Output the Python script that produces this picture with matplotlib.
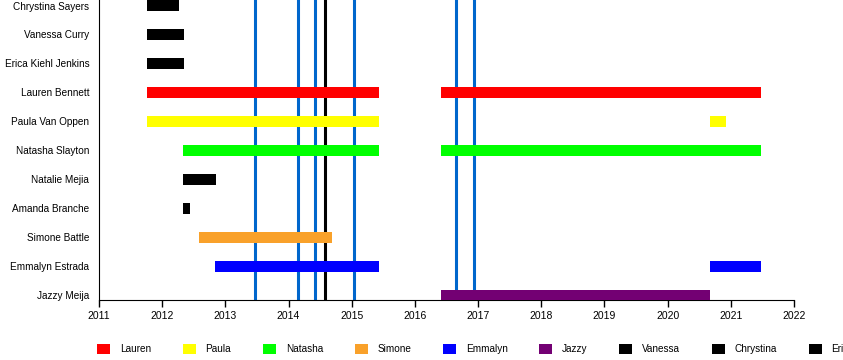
import matplotlib.pyplot as plt
from matplotlib.patches import Patch

# members, top to bottom
members = ["Chrystina Sayers", "Vanessa Curry", "Erica Kiehl Jenkins", "Lauren Bennett",
           "Paula Van Oppen", "Natasha Slayton", "Natalie Mejia", "Amanda Branche",
           "Simone Battle", "Emmalyn Estrada", "Jazzy Meija"]
member_colors = ["black", "black", "black", "#ff0000", "#ffff00", "#00ff00",
                 "black", "black", "#f9a12a", "#0000ff", "#730073"]
# (start, end) periods in decimal years
periods = [
    [(2011.76, 2012.27)],
    [(2011.76, 2012.34)],
    [(2011.76, 2012.34)],
    [(2011.76, 2015.43), (2016.41, 2021.47)],
    [(2011.76, 2015.43), (2020.67, 2020.92)],
    [(2012.33, 2015.43), (2016.41, 2021.47)],
    [(2012.33, 2012.85)],
    [(2012.33, 2012.44)],
    [(2012.58, 2014.69)],
    [(2012.83, 2015.43), (2020.67, 2021.47)],
    [(2016.41, 2020.67)],
]
# release markers
blue_events = [2013.47, 2014.15, 2014.42, 2015.03, 2016.65, 2016.94]
black_events = [2014.58]

legend_names = ["Lauren", "Paula", "Natasha", "Simone", "Emmalyn", "Jazzy",
                "Vanessa", "Chrystina", "Erica"]
legend_colors = ["#ff0000", "#ffff00", "#00ff00", "#f9a12a", "#0000ff", "#730073",
                 "black", "black", "black"]

plt.rcParams['font.family'] = ['Liberation Sans', 'DejaVu Sans']

fig = plt.figure(figsize=(8.43, 3.60), dpi=100)
ax = fig.add_axes([99 / 843, 60 / 360, (794 - 99) / 843, 300 / 360])

for i, (segs, c) in enumerate(zip(periods, member_colors)):
    ax.broken_barh([(s, e - s) for s, e in segs], (i - 0.19, 0.38),
                   facecolors=c, zorder=3)

for x in blue_events:
    ax.axvline(x, color="#0066cc", lw=2.2, zorder=2)
for x in black_events:
    ax.axvline(x, color="black", lw=2.2, zorder=2)

ax.set_xlim(2011, 2022)
ax.set_ylim(10.17, -0.19)
ax.set_xticks(range(2011, 2023))
ax.set_yticks(range(len(members)), members)
ax.tick_params(axis="y", length=0, pad=7, labelsize=7.2)
ax.tick_params(axis="x", length=5, width=1, pad=3, labelsize=7.5)
ax.spines["top"].set_visible(False)
ax.spines["right"].set_visible(False)

handles = [Patch(facecolor=c, edgecolor="none") for c in legend_colors]
fig.legend(handles, legend_names, loc="center left", bbox_to_anchor=(97 / 843, 11 / 360),
           ncol=9, frameon=False, fontsize=7.2, handlelength=1.3, handleheight=1.3,
           handletextpad=1.0, columnspacing=3.15, borderpad=0, borderaxespad=0)

fig.savefig("out.png", dpi=100)
